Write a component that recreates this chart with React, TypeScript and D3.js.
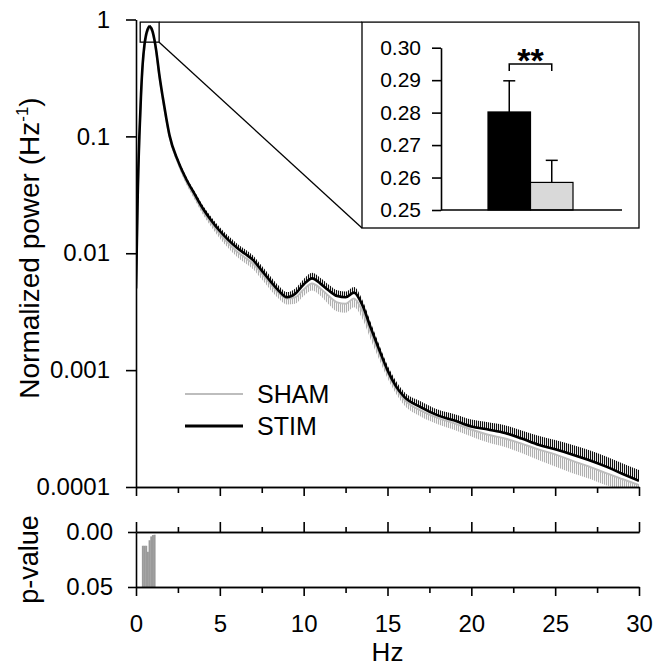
import React, { useEffect, useRef } from "react";
import * as d3 from "d3";

// frequency bins (Hz) and spectra
const freqs = [0, 0.05, 0.1, 0.2, 0.3, 0.4, 0.5, 0.6, 0.7, 0.8, 0.9, 1.0, 1.1, 1.2, 1.4, 1.6, 1.8, 2.0, 2.5, 3.0, 3.5, 4.0, 4.5, 5.0, 5.5, 6.0, 6.5, 7.0, 7.5, 8.0, 8.5, 9.0, 9.5, 10.0, 10.5, 11.0, 11.5, 12.0, 12.5, 13.0, 13.5, 14.0, 14.5, 15.0, 15.5, 16.0, 17, 18, 19, 20, 21, 22, 23, 24, 25, 26, 27, 28, 29, 30];

const stimMean = [0.005, 0.012, 0.03, 0.1, 0.23, 0.42, 0.6, 0.74, 0.83, 0.87, 0.85, 0.78, 0.67, 0.55, 0.33, 0.215, 0.145, 0.102, 0.062, 0.043, 0.032, 0.024, 0.019, 0.0155, 0.013, 0.0112, 0.0099, 0.0087, 0.0071, 0.0058, 0.0048, 0.0042, 0.0045, 0.0054, 0.0061, 0.0055, 0.0048, 0.0043, 0.0042, 0.0046, 0.0036, 0.0023, 0.0015, 0.001, 0.00073, 0.00059, 0.00048, 0.00041, 0.00037, 0.00033, 0.00031, 0.00029, 0.00026, 0.00023, 0.00021, 0.00019, 0.00017, 0.00015, 0.00013, 0.000113];
const stimSem = [0.0003, 0.0006, 0.0015, 0.005, 0.01, 0.018, 0.024, 0.028, 0.03, 0.03, 0.03, 0.028, 0.025, 0.021, 0.013, 0.009, 0.006, 0.0045, 0.003, 0.0022, 0.0018, 0.0015, 0.0013, 0.0012, 0.0011, 0.001, 0.0009, 0.0008, 0.0007, 0.0006, 0.0005, 0.00045, 0.0005, 0.0006, 0.0007, 0.00065, 0.00058, 0.00052, 0.0005, 0.00055, 0.0004, 0.00025, 0.00016, 0.0001, 0.00008, 0.00006, 0.00006, 0.00005, 0.00005, 0.000048, 0.000048, 0.000048, 0.000045, 0.000045, 0.000043, 0.00004, 0.000037, 0.000033, 0.00003, 0.000027];

const shamMean = [0.005, 0.011, 0.028, 0.095, 0.22, 0.4, 0.57, 0.7, 0.79, 0.84, 0.83, 0.76, 0.65, 0.53, 0.32, 0.205, 0.14, 0.099, 0.06, 0.041, 0.0305, 0.0228, 0.018, 0.0146, 0.0122, 0.0104, 0.0092, 0.0081, 0.0067, 0.0055, 0.0046, 0.0041, 0.0042, 0.0049, 0.0055, 0.005, 0.0043, 0.0038, 0.0037, 0.0041, 0.0032, 0.0021, 0.0014, 0.00095, 0.0007, 0.00056, 0.00045, 0.00039, 0.00035, 0.00031, 0.00028, 0.00026, 0.000235, 0.00021, 0.00019, 0.000168, 0.00015, 0.000132, 0.000117, 0.000104];
const shamSem = [0.0003, 0.0006, 0.0015, 0.005, 0.01, 0.017, 0.022, 0.026, 0.028, 0.028, 0.028, 0.026, 0.023, 0.02, 0.012, 0.008, 0.0055, 0.0042, 0.0028, 0.0021, 0.0018, 0.0015, 0.0013, 0.0012, 0.0011, 0.001, 0.00095, 0.00085, 0.00072, 0.0006, 0.0005, 0.00045, 0.0005, 0.0006, 0.0007, 0.00068, 0.00065, 0.00062, 0.0006, 0.00065, 0.00045, 0.00028, 0.00017, 0.0001, 0.00007, 0.00006, 0.00005, 0.000045, 0.000042, 0.00004, 0.00004, 0.00004, 0.00004, 0.00004, 0.00004, 0.000036, 0.000032, 0.000028, 0.000022, 0.000015];

// p-values per bin (only significant bins shown)
const pFreqs = [0.4, 0.5, 0.6, 0.7, 0.8, 0.9, 1.0, 1.1];
const pValues = [0.0125, 0.0125, 0.0125, 0.018, 0.0075, 0.004, 0.0028, 0.0025];

// inset bars (mean power in zoomed band)
const insetGroups = ["STIM", "SHAM"];
const insetMeans = [0.2802, 0.2585];
const insetSems = [0.0096, 0.0068];
const insetColors = ["#000000", "#d9d9d9"];

const yTicksMain = [1, 0.1, 0.01, 0.001, 0.0001];
const xMajor = [0, 5, 10, 15, 20, 25, 30];
const xMinor = [2.5, 7.5, 12.5, 17.5, 22.5, 27.5];
const insetTicks = [0.25, 0.26, 0.27, 0.28, 0.29, 0.3];

// zoom rectangle (Hz, power)
const zoomF = [0.25, 1.38];
const zoomP = [0.64, 0.95];

const FONT = "'Liberation Sans', Arial, sans-serif";

export default function App() {
  const svgRef = useRef(null);

  useEffect(() => {
    const svg = d3.select(svgRef.current);
    svg.selectAll("*").remove();

    const x = d3.scaleLinear().domain([0, 30]).range([136, 639]);
    const y = d3.scaleLog().domain([0.0001, 1]).range([487, 19.5]);
    const yp = d3.scaleLinear().domain([0, 0.05]).range([532, 587]);

    const defs = svg.append("defs");
    defs.append("clipPath").attr("id", "plotClip")
      .append("rect").attr("x", 136).attr("y", 10).attr("width", 503).attr("height", 477);
    const hatch = (id, color) => {
      const p = defs.append("pattern").attr("id", id)
        .attr("patternUnits", "userSpaceOnUse").attr("width", 2).attr("height", 10);
      p.append("rect").attr("x", 0).attr("y", 0).attr("width", 1.1).attr("height", 10).attr("fill", color);
    };
    hatch("stimHatch", "#111");
    hatch("shamHatch", "#b0b0b0");

    const rows = freqs.map((f, i) => ({
      f, sm: stimMean[i], ss: stimSem[i], hm: shamMean[i], hs: shamSem[i]
    }));

    const curves = svg.append("g").attr("clip-path", "url(#plotClip)");

    // SHAM: error bars downward
    curves.append("path").datum(rows)
      .attr("fill", "url(#shamHatch)")
      .attr("d", d3.area().x(d => x(d.f)).y0(d => y(d.hm)).y1(d => y(Math.max(d.hm - d.hs, 1e-6))).curve(d3.curveMonotoneX));
    curves.append("path").datum(rows)
      .attr("fill", "none").attr("stroke", "#bdbdbd").attr("stroke-width", 2)
      .attr("d", d3.line().x(d => x(d.f)).y(d => y(d.hm)).curve(d3.curveMonotoneX));

    // STIM: error bars upward
    curves.append("path").datum(rows)
      .attr("fill", "url(#stimHatch)")
      .attr("d", d3.area().x(d => x(d.f)).y0(d => y(d.sm)).y1(d => y(d.sm + d.ss)).curve(d3.curveMonotoneX));
    curves.append("path").datum(rows)
      .attr("fill", "none").attr("stroke", "#000").attr("stroke-width", 2.6)
      .attr("d", d3.line().x(d => x(d.f)).y(d => y(d.sm)).curve(d3.curveMonotoneX));

    const styleAxis = g => {
      g.selectAll("path.domain").attr("stroke", "#000").attr("stroke-width", 1.6);
      g.selectAll(".tick line").attr("stroke", "#000").attr("stroke-width", 1.6);
      g.selectAll("text").attr("font-family", FONT).attr("fill", "#000");
    };

    // main axes
    svg.append("g").attr("transform", "translate(0,487)")
      .call(d3.axisBottom(x).tickValues(xMajor).tickSize(9).tickSizeOuter(0).tickFormat(() => ""))
      .call(styleAxis);
    svg.append("g").attr("transform", "translate(0,487)")
      .call(d3.axisBottom(x).tickValues(xMinor).tickSize(6).tickSizeOuter(0).tickFormat(() => ""))
      .call(styleAxis);
    svg.append("g").attr("transform", "translate(136,0)")
      .call(d3.axisLeft(y).tickValues(yTicksMain).tickSize(10).tickSizeOuter(0).tickPadding(16).tickFormat(d => String(d)))
      .call(styleAxis)
      .call(g => g.selectAll("text").attr("font-size", 24));

    // p-value panel
    svg.append("g").selectAll("rect").data(pFreqs).join("rect")
      .attr("x", (d, i) => x(d - 0.05))
      .attr("width", (d) => x(d + 0.05) - x(d - 0.05) + 0.3)
      .attr("y", (d, i) => yp(pValues[i]))
      .attr("height", (d, i) => yp(0.05) - yp(pValues[i]))
      .attr("fill", "#9a9a9a");

    svg.append("g").attr("transform", "translate(0,532)")
      .call(d3.axisTop(x).tickValues(xMajor).tickSize(10).tickSizeOuter(0).tickFormat(() => ""))
      .call(styleAxis);
    svg.append("g").attr("transform", "translate(0,532)")
      .call(d3.axisTop(x).tickValues(xMinor).tickSize(5).tickSizeOuter(0).tickFormat(() => ""))
      .call(styleAxis);
    svg.append("g").attr("transform", "translate(0,587)")
      .call(d3.axisBottom(x).tickValues(xMajor).tickSize(9).tickSizeOuter(0).tickPadding(19).tickFormat(d => String(d)))
      .call(styleAxis)
      .call(g => g.selectAll("text").attr("font-size", 24));
    svg.append("g").attr("transform", "translate(0,587)")
      .call(d3.axisBottom(x).tickValues(xMinor).tickSize(6).tickSizeOuter(0).tickFormat(() => ""))
      .call(styleAxis);
    svg.append("g").attr("transform", "translate(136,0)")
      .call(d3.axisLeft(yp).tickValues([0, 0.05]).tickSize(8).tickSizeOuter(0).tickPadding(15).tickFormat(d3.format(".2f")))
      .call(styleAxis)
      .call(g => g.selectAll("text").attr("font-size", 24));

    // axis titles
    svg.append("text")
      .attr("transform", `translate(39,248) rotate(-90)`)
      .attr("text-anchor", "middle").attr("font-family", FONT).attr("font-size", 28)
      .call(t => {
        t.append("tspan").text("Normalized power (Hz");
        t.append("tspan").attr("font-size", 17).attr("dy", -11).text("-1");
        t.append("tspan").attr("dy", 11).text(")");
      });
    svg.append("text")
      .attr("transform", `translate(38,${(532 + 587) / 2}) rotate(-90)`)
      .attr("text-anchor", "middle").attr("font-family", FONT).attr("font-size", 27)
      .text("p-value");
    svg.append("text")
      .attr("x", (x(0) + x(30)) / 2).attr("y", 661)
      .attr("text-anchor", "middle").attr("font-family", FONT).attr("font-size", 26)
      .text("Hz");

    // legend
    const legend = [
      { label: "SHAM", color: "#bdbdbd", w: 2, yy: 394 },
      { label: "STIM", color: "#000", w: 3, yy: 426 }
    ];
    legend.forEach(l => {
      svg.append("line").attr("x1", 185).attr("x2", 243).attr("y1", l.yy).attr("y2", l.yy)
        .attr("stroke", l.color).attr("stroke-width", l.w);
      svg.append("text").attr("x", 257).attr("y", l.yy).attr("dy", "0.36em")
        .attr("font-family", FONT).attr("font-size", 25).text(l.label);
    });

    // zoom rectangle and connectors
    const zx0 = x(zoomF[0]), zx1 = x(zoomF[1]);
    const zy0 = y(zoomP[1]), zy1 = y(zoomP[0]);
    const inset = { x0: 362, x1: 639, y0: zy0, y1: 228 };
    svg.append("rect").attr("x", zx0).attr("y", zy0).attr("width", zx1 - zx0).attr("height", zy1 - zy0)
      .attr("fill", "none").attr("stroke", "#000").attr("stroke-width", 1.3);
    svg.append("line").attr("x1", zx1).attr("y1", zy0).attr("x2", inset.x0).attr("y2", inset.y0)
      .attr("stroke", "#000").attr("stroke-width", 1.3);
    svg.append("line").attr("x1", zx1).attr("y1", zy1).attr("x2", inset.x0).attr("y2", inset.y1)
      .attr("stroke", "#000").attr("stroke-width", 1.3);
    svg.append("rect").attr("x", inset.x0).attr("y", inset.y0)
      .attr("width", inset.x1 - inset.x0).attr("height", inset.y1 - inset.y0)
      .attr("fill", "#fff").attr("stroke", "#000").attr("stroke-width", 1.3);

    // inset bar chart
    const yi = d3.scaleLinear().domain([0.25, 0.3]).range([210, 47.7]);
    const xi = d3.scaleBand().domain(insetGroups).range([488, 573]).padding(0);
    const ig = svg.append("g");
    ig.selectAll("line.err").data(insetGroups).join("line")
      .attr("x1", d => xi(d) + xi.bandwidth() / 2).attr("x2", d => xi(d) + xi.bandwidth() / 2)
      .attr("y1", (d, i) => yi(insetMeans[i])).attr("y2", (d, i) => yi(insetMeans[i] + insetSems[i]))
      .attr("stroke", "#000").attr("stroke-width", 1.5);
    ig.selectAll("line.cap").data(insetGroups).join("line")
      .attr("x1", d => xi(d) + xi.bandwidth() / 2 - 6).attr("x2", d => xi(d) + xi.bandwidth() / 2 + 6)
      .attr("y1", (d, i) => yi(insetMeans[i] + insetSems[i])).attr("y2", (d, i) => yi(insetMeans[i] + insetSems[i]))
      .attr("stroke", "#000").attr("stroke-width", 1.5);
    ig.selectAll("rect").data(insetGroups).join("rect")
      .attr("x", d => xi(d)).attr("width", xi.bandwidth())
      .attr("y", (d, i) => yi(insetMeans[i])).attr("height", (d, i) => yi(0.25) - yi(insetMeans[i]))
      .attr("fill", (d, i) => insetColors[i]).attr("stroke", "#000").attr("stroke-width", 1.2);

    svg.append("g").attr("transform", "translate(441,0)")
      .call(d3.axisLeft(yi).tickValues(insetTicks).tickSize(9).tickSizeOuter(0).tickPadding(11).tickFormat(d3.format(".2f")))
      .call(styleAxis)
      .call(g => g.selectAll("text").attr("font-size", 21));
    svg.append("line").attr("x1", 441).attr("x2", 622).attr("y1", yi(0.25)).attr("y2", yi(0.25))
      .attr("stroke", "#000").attr("stroke-width", 1.6);

    // significance bracket
    const bx0 = xi("STIM") + xi.bandwidth() / 2, bx1 = xi("SHAM") + xi.bandwidth() / 2;
    svg.append("path")
      .attr("d", `M${bx0},71V64H${bx1}V71`)
      .attr("fill", "none").attr("stroke", "#000").attr("stroke-width", 1.5);
    svg.append("text").attr("x", (bx0 + bx1) / 2).attr("y", 72)
      .attr("text-anchor", "middle").attr("font-family", FONT).attr("font-size", 34).attr("font-weight", "bold")
      .text("**");
  }, []);

  return (
    <svg ref={svgRef} width={655} height={670}
      style={{ position: "absolute", left: 0, top: 0, background: "#fff" }} />
  );
}
